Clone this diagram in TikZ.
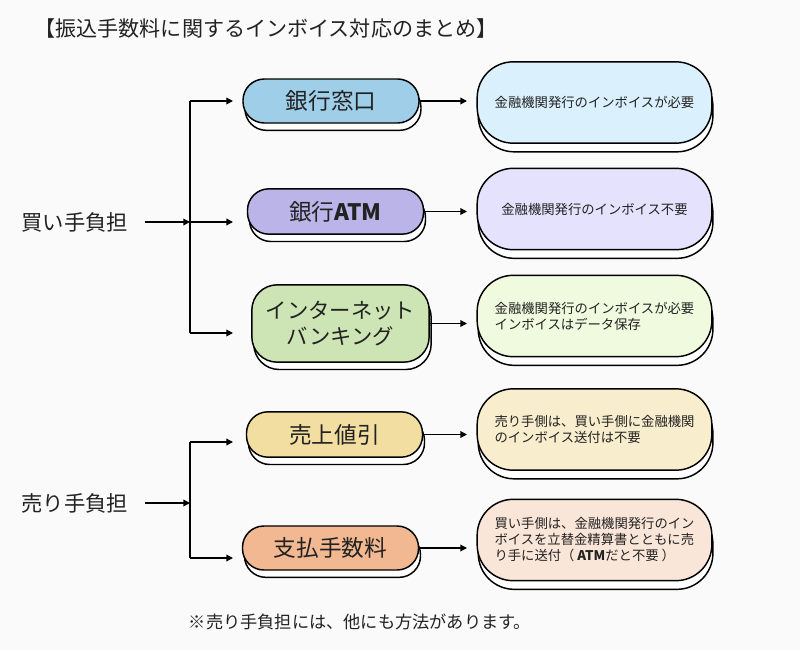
\documentclass[tikz,border=0pt]{standalone}
\usepackage{fontspec}
\setmainfont{Noto Sans CJK JP}
\usetikzlibrary{arrows.meta, shadows}

\definecolor{pagebg}{RGB}{250,250,250}
\definecolor{inktext}{RGB}{34,34,34}
\definecolor{madoblue}{RGB}{158,206,232}
\definecolor{madoinfo}{RGB}{218,240,253}
\definecolor{atmpurple}{RGB}{186,180,232}
\definecolor{atminfo}{RGB}{228,226,252}
\definecolor{netgreen}{RGB}{205,228,180}
\definecolor{netinfo}{RGB}{240,250,222}
\definecolor{nebikiyellow}{RGB}{241,222,160}
\definecolor{nebikiinfo}{RGB}{248,237,205}
\definecolor{feeorange}{RGB}{242,184,145}
\definecolor{feeinfo}{RGB}{250,230,216}

\begin{document}
\begin{tikzpicture}[
    x=0.75pt, y=-0.75pt,
    every node/.style={text=inktext},
    method/.style={rectangle, rounded corners=16pt, draw=black, fill=#1,
        minimum width=132pt, minimum height=33pt, align=center, line width=1.1pt,
        inner sep=2pt, font=\fontsize{17pt}{19.5pt}\selectfont,
        general shadow={shadow xshift=1.5pt, shadow yshift=-5.5pt, fill=white,
            draw=black, line width=1.1pt}},
    method/.default=madoblue,
    infobox/.style={rectangle, rounded corners=27pt, draw=black, fill=#1,
        minimum width=176pt, minimum height=61pt, align=left, line width=1.1pt,
        inner sep=2pt, font=\fontsize{10pt}{12pt}\selectfont,
        general shadow={shadow xshift=0.8pt, shadow yshift=-6.5pt, fill=white,
            draw=black, line width=1.1pt}},
    infobox/.default=madoinfo,
    sidelabel/.style={font=\fontsize{16pt}{19pt}\selectfont, inner sep=2pt},
    arrow/.style={-{Triangle[length=5pt,width=5pt]}, line width=1pt, color=black},
    busline/.style={line width=1pt, color=black},
]

% --- Page ---
\fill[pagebg] (0,0) rectangle (800,650);

% --- Title ---
\node[font=\fontsize{15.8pt}{18pt}\selectfont] (title) at (266,28) {【振込手数料に関するインボイス対応のまとめ】};

% --- Payer labels ---
\node[sidelabel] (buyer) at (75,222) {買い手負担};
\node[sidelabel] (seller) at (75,503) {売り手負担};

% --- Methods ---
\node[method=madoblue] (madoguchi) at (331,101) {銀行窓口};
\node[method=atmpurple, minimum height=34pt] (atm) at (335.5,211.5) {銀行\textbf{ATM}};
\node[method=netgreen, minimum width=133pt, minimum height=58pt, rounded corners=19pt,
    font=\fontsize{16pt}{19.5pt}\selectfont] (netbank) at (340.5,323.5) {インターネット\\バンキング};
\node[method=nebikiyellow, minimum height=34pt] (nebiki) at (334.5,434.5) {売上値引};
\node[method=feeorange] (fee) at (330.5,548) {支払手数料};

% --- Invoice notes ---
\node[infobox=madoinfo] (madoinfo) at (594.5,102.5) {金融機関発行のインボイスが必要};
\node[infobox=atminfo] (atminfo) at (594.5,209) {金融機関発行のインボイス不要};
\node[infobox=netinfo] (netinfo) at (594.5,316) {金融機関発行のインボイスが必要\\インボイスはデータ保存};
\node[infobox=nebikiinfo] (nebikiinfo) at (594.5,429.5) {売り手側は、買い手側に金融機関\\のインボイス送付は不要};
\node[infobox=feeinfo] (feeinfo) at (594.5,540) {買い手側は、金融機関発行のイン\\ボイスを立替金精算書とともに売\\り手に送付（ \textbf{ATM}だと不要 ）};

% --- Footnote ---
\node[font=\fontsize{12.9pt}{15pt}\selectfont] (footnote) at (360,622) {※売り手負担には、他にも方法があります。};

% --- Bus and tip columns ---
\coordinate (busAtop) at (190,101);
\coordinate (busAmid) at (190,222);
\coordinate (busAbot) at (190,333);
\coordinate (busBtop) at (190,442);
\coordinate (busBmid) at (190,503);
\coordinate (busBbot) at (190,558);
\coordinate (tipcol) at (233,0);
\coordinate (infocol) at (467,0);

% --- Buyer side ---
\draw[arrow, shorten <=10pt] (buyer.east) -- (busAmid);
\draw[busline] (busAtop) -- (busAbot);
\draw[arrow] (busAtop) -- (busAtop -| tipcol);
\draw[arrow] (busAmid) -- (busAmid -| tipcol);
\draw[arrow] (busAbot) -- (busAbot -| tipcol);

% --- Seller side ---
\draw[arrow, shorten <=10pt] (seller.east) -- (busBmid);
\draw[busline] (busBtop) -- (busBbot);
\draw[arrow] (busBtop) -- (busBtop -| tipcol);
\draw[arrow] (busBbot) -- (busBbot -| tipcol);

% --- Method to note ---
\draw[arrow] (madoguchi.east) -- (madoguchi.east -| infocol);
\draw[arrow] (atm.east) -- (atm.east -| infocol);
\draw[arrow] (netbank.east) -- (netbank.east -| infocol);
\draw[arrow] (nebiki.east) -- (nebiki.east -| infocol);
\draw[arrow] (fee.east) -- (fee.east -| infocol);

\end{tikzpicture}
\end{document}
